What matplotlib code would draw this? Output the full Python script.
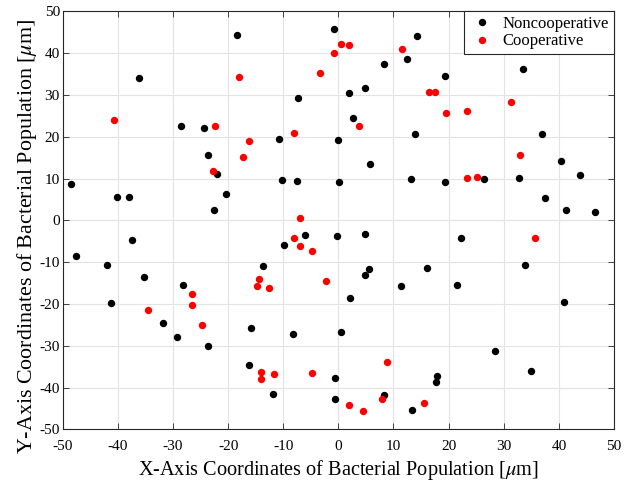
import matplotlib
matplotlib.use("Agg")
import matplotlib.pyplot as plt
import numpy as np

# noncooperative bacteria positions [um]
noncoop_x = [-18.4, -0.85, -36.2, -7.4, -28.6, -24.4, -10.7, 0.0, -23.7, -22.0,
             -48.5, -40.2, -37.9, -10.2, -7.5, 0.2, -20.3, -22.6,
             14.2, 12.4, 8.2, 19.4, 33.5, 4.8, 1.9, 2.7, 13.9, 36.9,
             5.7, 40.3, 43.8, 13.2, 19.4, 26.5, 32.7, 37.5, 41.3, 46.5,
             -47.6, -37.5, -41.9, -35.2, -41.3, -28.2, -31.8, -29.3, -23.7,
             -9.9, -6.1, -0.24, -13.6, -15.8, -8.2, 0.4, -16.2, -11.9, -0.7, -0.7,
             4.8, 22.3, 33.9, 4.85, 5.6, 16.0, 11.3, 21.5, 2.06, 41.0,
             28.5, 35.0, 17.9, 17.7, 8.3, 13.3]
noncoop_y = [44.4, 45.7, 34.0, 29.3, 22.6, 22.0, 19.5, 19.3, 15.7, 11.0,
             8.6, 5.6, 5.6, 9.7, 9.5, 9.2, 6.4, 2.4,
             44.0, 38.7, 37.4, 34.5, 36.2, 31.7, 30.4, 24.5, 20.7, 20.7,
             13.4, 14.2, 10.8, 9.8, 9.2, 9.8, 10.1, 5.3, 2.6, 1.9,
             -8.5, -4.6, -10.6, -13.5, -19.8, -15.4, -24.5, -27.8, -30.1,
             -5.9, -3.4, -3.8, -10.9, -25.7, -27.1, -26.8, -34.5, -41.6, -37.6, -42.8,
             -3.2, -4.2, -10.6, -13.0, -11.6, -11.3, -15.8, -15.5, -18.5, -19.6,
             -31.2, -35.9, -37.3, -38.7, -41.8, -45.4]

# cooperative bacteria positions [um]
coop_x = [-0.8, 0.4, 1.9, -3.4, -18.1, -40.7, -22.4, -16.2, -8.1, -17.3,
          -22.8, -7.0, 11.6, 16.4, 17.6, 31.4, 3.7, 19.5, 23.4, 32.9,
          23.4, 25.1, -8.0, -7.0, -4.8, -2.2, -14.4, -14.7, -12.5, -26.6,
          -26.6, -34.6, -24.8, -14.1, -14.1, -11.7, -4.8, 35.7, 8.85, 8.0,
          1.9, 4.4, 15.6]
coop_y = [40.0, 42.3, 41.9, 35.3, 34.2, 24.0, 22.5, 19.0, 20.8, 15.2,
          11.9, 0.5, 40.9, 30.6, 30.6, 28.4, 22.6, 25.7, 26.1, 15.7,
          10.1, 10.3, -4.2, -6.2, -7.4, -14.6, -13.9, -15.6, -16.2, -17.7,
          -20.2, -21.4, -25.1, -36.3, -37.9, -36.8, -36.6, -4.2, -33.9, -42.8,
          -44.1, -45.5, -43.6]

plt.rcParams['font.family'] = ['Liberation Serif', 'DejaVu Serif']
plt.rcParams['mathtext.fontset'] = 'stix'
plt.rcParams['axes.unicode_minus'] = False

fig = plt.figure(figsize=(6.24, 4.82), dpi=100)
ax = fig.add_axes([0.1005, 0.109, 0.8835, 0.8675])

ax.plot(noncoop_x, noncoop_y, 'o', color='black', markersize=4.3,
        linestyle='none', label='Noncooperative')
ax.plot(coop_x, coop_y, 'o', color='red', markersize=4.3,
        linestyle='none', label='Cooperative')

ax.set_xlim(-50, 50)
ax.set_ylim(-50, 50)
ax.set_xticks(np.arange(-50, 51, 10))
ax.set_yticks(np.arange(-50, 51, 10))
ax.grid(True, color='#e3e3e3', linewidth=0.8)
ax.set_axisbelow(True)
ax.tick_params(direction='in', top=True, right=True, length=4,
               width=0.6, color='#262626', labelsize=11)
ax.tick_params(axis='x', pad=7.3)
ax.tick_params(axis='y', pad=2)
for s in ax.spines.values():
    s.set_color('#262626')
    s.set_linewidth(0.8)

ax.set_xlabel(r'X-Axis Coordinates of Bacterial Population [$\mu$m]', fontsize=14.6)
ax.set_ylabel(r'Y-Axis Coordinates of Bacterial Population [$\mu$m]', fontsize=15.8)
ax.xaxis.label.set_va('baseline')
ax.xaxis.set_label_coords(0.5, -0.108)
ax.yaxis.label.set_va('baseline')
ax.yaxis.set_label_coords(-0.0557, 0.4624)

leg = ax.legend(loc='upper right', borderaxespad=0, fontsize=12, fancybox=False,
                framealpha=1, edgecolor='#262626', handlelength=1.5,
                handletextpad=0.5, borderpad=0.3, labelspacing=0.07)
leg.get_frame().set_linewidth(0.8)

fig.savefig('out.png', dpi=100)
